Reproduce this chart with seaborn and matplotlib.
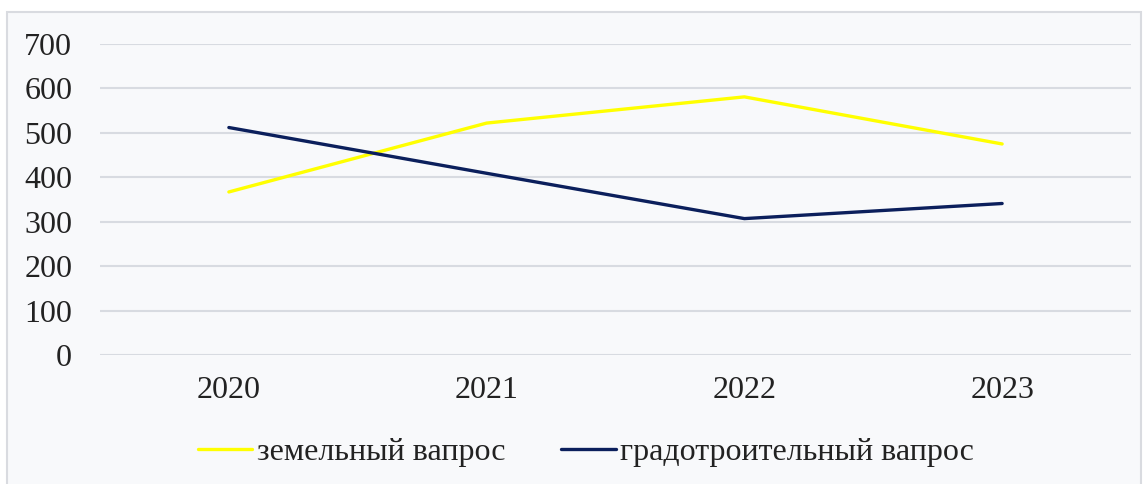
import matplotlib.pyplot as plt
import pandas as pd
import seaborn as sns
from matplotlib.patches import Rectangle

years = ["2020", "2021", "2022", "2023"]
land = [367, 522, 581, 475]
urban = [512, 409, 307, 341]
series_names = ["земельный вапрос", "градотроительный вапрос"]
colors = ["#ffff00", "#0b1f5c"]
yticks = [0, 100, 200, 300, 400, 500, 600, 700]

df = pd.DataFrame(
    {
        "year": years * 2,
        "value": land + urban,
        "series": [series_names[0]] * len(years) + [series_names[1]] * len(years),
    }
)

sns.set_theme(style="white")
plt.rcParams["font.family"] = ["Liberation Serif", "DejaVu Serif"]

bg = "#f8f9fb"
fig = plt.figure(figsize=(11.48, 4.84), dpi=100, facecolor="white")
fig.patches.append(
    Rectangle(
        (7 / 1148, -0.01),
        1134 / 1148,
        1 - 12 / 484 + 0.01,
        transform=fig.transFigure,
        facecolor=bg,
        edgecolor="#d9dbe0",
        linewidth=1.5,
        zorder=-5,
    )
)
ax = fig.add_axes([100 / 1148, 1 - 355 / 484, 1031 / 1148, 311 / 484])
ax.set_facecolor(bg)
ax.set_zorder(2)

sns.lineplot(
    data=df,
    x="year",
    y="value",
    hue="series",
    palette=colors,
    linewidth=2.4,
    ax=ax,
    legend=False,
    sort=False,
)

ax.set_xlim(-0.5, 3.5)
ax.set_ylim(0, 700)
ax.set_yticks(yticks)
ax.set_yticklabels([str(t) for t in yticks])
for y in yticks:
    ax.axhline(y, color="#d8dbe1", linewidth=1.5, zorder=0)
for s in ax.spines.values():
    s.set_visible(False)
ax.tick_params(axis="both", length=0, labelsize=23, colors="#222222")
ax.tick_params(axis="y", pad=20)
ax.tick_params(axis="x", pad=15)
ax.set_xlabel("")
ax.set_ylabel("")

handles = [plt.Line2D([], [], color=c, linewidth=2.4) for c in colors]
leg = fig.legend(
    handles,
    series_names,
    loc="center",
    bbox_to_anchor=(586 / 1148, 1 - 452 / 484),
    ncol=2,
    frameon=False,
    fontsize=23,
    handlelength=1.7,
    handletextpad=0.15,
    columnspacing=1.75,
    labelcolor="#222222",
)
leg.set_zorder(3)

fig.savefig("out.png", dpi=100, facecolor="white")
